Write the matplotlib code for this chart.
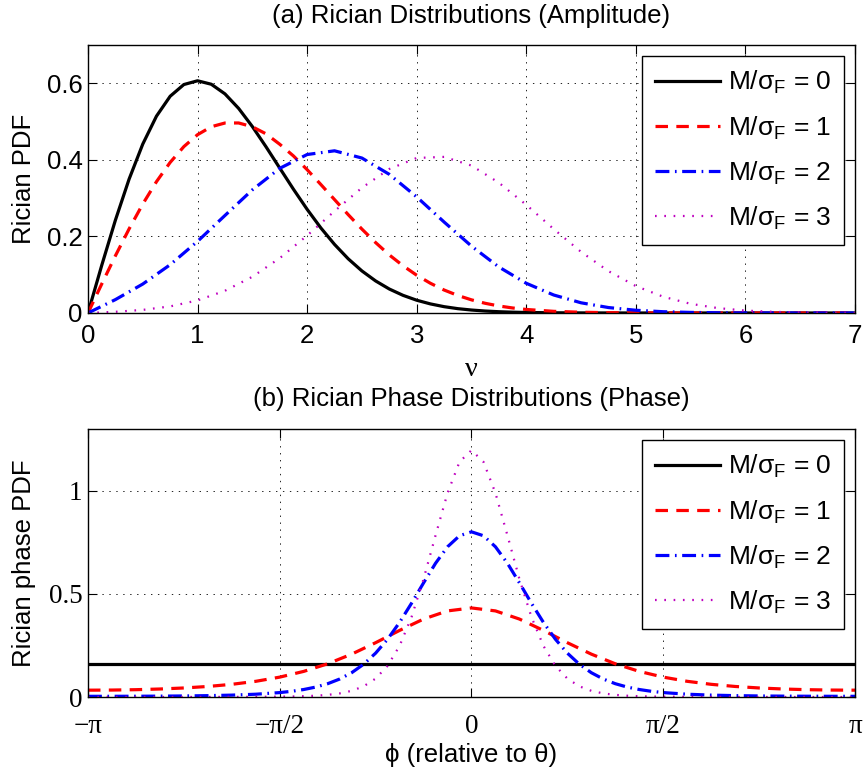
import numpy as np
import matplotlib
matplotlib.use("Agg")
import matplotlib.pyplot as plt

# amplitude axis and Rician PDF values (sigma_F = 1)
# M = 0 and 1 are sharper, so they get a finer step up to nu = 4
nu_fine = [0, 0.125, 0.25, 0.375, 0.5, 0.625, 0.75, 0.875, 1, 1.125, 1.25, 1.375,
           1.5, 1.625, 1.75, 1.875, 2, 2.125, 2.25, 2.375, 2.5, 2.625, 2.75, 2.875,
           3, 3.125, 3.25, 3.375, 3.5, 3.625, 3.75, 3.875, 4,
           4.25, 4.5, 4.75, 5, 5.25, 5.5, 5.75, 6, 6.25, 6.5, 6.75, 7]
nu = [0, 0.25, 0.5, 0.75, 1, 1.25, 1.5, 1.75, 2, 2.25, 2.5, 2.75, 3, 3.25, 3.5,
      3.75, 4, 4.25, 4.5, 4.75, 5, 5.25, 5.5, 5.75, 6, 6.25, 6.5, 6.75, 7]
pdf_m0 = [0, 0.1240, 0.2423, 0.3495, 0.4412, 0.5141, 0.5661, 0.5967, 0.6065, 0.5975,
          0.5723, 0.5343, 0.4870, 0.4340, 0.3785, 0.3233, 0.2707, 0.2222, 0.1791,
          0.1415, 0.1098, 0.0837, 0.0626, 0.0461, 0.0333, 0.0237, 0.0165, 0.0113,
          0.0077, 0.0051, 0.0033, 0.0021, 0.0013,
          0.0005, 0.0002, 0.0001, 0, 0, 0, 0, 0, 0, 0, 0, 0]
pdf_m1 = [0, 0.0755, 0.1493, 0.2195, 0.2846, 0.3430, 0.3933, 0.4346, 0.4657, 0.4865,
          0.4962, 0.4963, 0.4864, 0.4679, 0.4407, 0.4102, 0.3743, 0.3356, 0.2962,
          0.2568, 0.2191, 0.1839, 0.1516, 0.1234, 0.0986, 0.0776, 0.0600, 0.0458,
          0.0343, 0.0253, 0.0183, 0.0131, 0.0092,
          0.0043, 0.0019, 0.0008, 0.0003, 0.0001, 0, 0, 0, 0, 0, 0, 0]
pdf_m2 = [0, 0.0349, 0.0756, 0.1261, 0.1871, 0.2547, 0.3216, 0.3778, 0.4139, 0.4236,
          0.4047, 0.3621, 0.3032, 0.2376, 0.1746, 0.1201, 0.0776, 0.0470, 0.0266,
          0.0142, 0.0071, 0.0033, 0.0015, 0.0006, 0.0002, 0.0001, 0, 0, 0]
pdf_m3 = [0, 0.0031, 0.0081, 0.0172, 0.0329, 0.0580, 0.0946, 0.1432, 0.2022, 0.2660,
          0.3271, 0.3761, 0.4049, 0.4077, 0.3850, 0.3402, 0.2825, 0.2193, 0.1596,
          0.1093, 0.0703, 0.0424, 0.0239, 0.0127, 0.0063, 0.0030, 0.0013, 0.0005, 0.0002]

# phase axis, in multiples of pi/16 (coarse) and pi/32 (fine, around the peak)
k16 = list(range(-16, 17))
k32 = [-32, -30, -28, -26, -24, -22, -20, -18] + list(range(-16, 17)) + \
      [18, 20, 22, 24, 26, 28, 30, 32]
phase_m0 = [0.1592] * 33
phase_m1 = [0.0332, 0.0338, 0.0356, 0.0389, 0.0439, 0.0512, 0.0616, 0.0762, 0.0965,
            0.1243, 0.1612, 0.2080, 0.2635, 0.3231, 0.3782, 0.4177, 0.4321, 0.4177,
            0.3782, 0.3231, 0.2635, 0.2080, 0.1612, 0.1243, 0.0965, 0.0762, 0.0616,
            0.0512, 0.0439, 0.0389, 0.0356, 0.0338, 0.0332]
phase_m2 = [0.0034, 0.0035, 0.0038, 0.0043, 0.0052, 0.0067, 0.0092, 0.0136, 0.0215,
            0.0278, 0.0364, 0.0482, 0.0646, 0.0872, 0.1179, 0.1591, 0.2128, 0.2805,
            0.3621, 0.4552, 0.5537, 0.6487, 0.7287, 0.7823, 0.8013, 0.7823, 0.7287,
            0.6487, 0.5537, 0.4552, 0.3621, 0.2805, 0.2128, 0.1591, 0.1179, 0.0872,
            0.0646, 0.0482, 0.0364, 0.0278, 0.0215, 0.0136, 0.0092, 0.0067, 0.0052,
            0.0043, 0.0038, 0.0035, 0.0034]
phase_m3 = [0.0002, 0.0002, 0.0002, 0.0002, 0.0003, 0.0004, 0.0006, 0.0010, 0.0018,
            0.0026, 0.0040, 0.0063, 0.0104, 0.0175, 0.0300, 0.0519, 0.0894, 0.1515,
            0.2483, 0.3885, 0.5723, 0.7839, 0.9891, 1.1407, 1.1970, 1.1407, 0.9891,
            0.7839, 0.5723, 0.3885, 0.2483, 0.1515, 0.0894, 0.0519, 0.0300, 0.0175,
            0.0104, 0.0063, 0.0040, 0.0026, 0.0018, 0.0010, 0.0006, 0.0004, 0.0003,
            0.0002, 0.0002, 0.0002, 0.0002]

ratios = [0, 1, 2, 3]
phase_ticks = ['\u2212\u03c0', '\u2212\u03c0/2', '0', '\u03c0/2', '\u03c0']

plt.rcParams['font.family'] = ['Liberation Sans', 'DejaVu Sans']
plt.rcParams['mathtext.fontset'] = 'custom'
plt.rcParams['mathtext.rm'] = 'Liberation Sans'
plt.rcParams['mathtext.it'] = 'Liberation Sans:italic'
plt.rcParams['lines.scale_dashes'] = False
fs = 18.5

styles = [dict(color='k', lw=2.3, ls='-'),
          dict(color='r', lw=2.3, ls=(0, (9, 6))),
          dict(color='b', lw=2.3, ls=(0, (10, 4, 1.2, 4))),
          dict(color='m', lw=1.6, ls=(0, (1.2, 5.5)))]
labels = [r'M/$\mathrm{\sigma_F}$ = %d' % r for r in ratios]


def style_axes(ax, xpad=8):
    ax.grid(True, color='k', lw=0.6, ls=(0, (1, 4)))
    ax.tick_params(direction='in', length=6.5, width=0.8, top=True, right=True,
                   labelsize=fs)
    ax.tick_params(axis='x', pad=xpad)
    ax.tick_params(axis='y', pad=4)
    for s in ax.spines.values():
        s.set_linewidth(1.0)


def add_legend(ax):
    leg = ax.legend(loc='upper right', bbox_to_anchor=(0.986, 0.959), borderaxespad=0,
                    fontsize=fs + 0.5, handlelength=2.45, handletextpad=0.3,
                    labelspacing=0.68, borderpad=0.5, fancybox=False,
                    framealpha=1, edgecolor='k')
    leg.get_frame().set_linewidth(1.0)


fig = plt.figure(figsize=(8.66, 7.69), dpi=100)

# (a) amplitude
ax1 = fig.add_axes([0.1016, 0.593, 0.8857, 0.3485])
for xs, ys, st, lab in zip([nu_fine, nu_fine, nu, nu],
                           [pdf_m0, pdf_m1, pdf_m2, pdf_m3], styles, labels):
    ax1.plot(xs, ys, label=lab, **st)
ax1.set_xlim(0, 7)
ax1.set_ylim(0, 0.7)
ax1.set_xticks(range(8))
ax1.set_yticks([0, 0.2, 0.4, 0.6])
ax1.set_yticklabels(['0', '0.2', '0.4', '0.6'])
style_axes(ax1)
ax1.set_title('(a) Rician Distributions (Amplitude)', fontsize=fs, pad=15.5)
ax1.set_xlabel('\u03bd', fontsize=fs + 2, family='Liberation Serif')
ax1.xaxis.set_label_coords(0.5, -0.21)
ax1.xaxis.label.set_va('center')
ax1.set_ylabel('Rician PDF', fontsize=fs)
ax1.yaxis.set_label_coords(-0.084, 0.5)
ax1.yaxis.label.set_va('center')
add_legend(ax1)

# (b) phase
phi16 = np.array(k16) * np.pi / 16
phi32 = np.array(k32) * np.pi / 32
ax2 = fig.add_axes([0.1016, 0.0936, 0.8857, 0.3485])
for xs, ys, st, lab in zip([phi16, phi16, phi32, phi32],
                           [phase_m0, phase_m1, phase_m2, phase_m3], styles, labels):
    ax2.plot(xs, ys, label=lab, **st)
ax2.set_xlim(-np.pi, np.pi)
ax2.set_ylim(0, 1.3)
ax2.set_xticks([-np.pi, -np.pi / 2, 0, np.pi / 2, np.pi])
ax2.set_xticklabels(phase_ticks)
ax2.set_yticks([0, 0.5, 1])
ax2.set_yticklabels(['0', '0.5', '1'])
style_axes(ax2, xpad=12)
for t in ax2.get_xticklabels() + ax2.get_yticklabels():
    t.set_family('Liberation Serif')
    t.set_fontsize(fs + 1)
ax2.set_title('(b) Rician Phase Distributions (Phase)', fontsize=fs, pad=16.5)
ax2.set_xlabel('\u03d5 (relative to \u03b8)', fontsize=fs)
ax2.xaxis.set_label_coords(0.5, -0.215)
ax2.xaxis.label.set_va('center')
ax2.set_ylabel('Rician phase PDF', fontsize=fs)
ax2.yaxis.set_label_coords(-0.084, 0.5)
ax2.yaxis.label.set_va('center')
add_legend(ax2)

fig.savefig('out.png', dpi=100)
